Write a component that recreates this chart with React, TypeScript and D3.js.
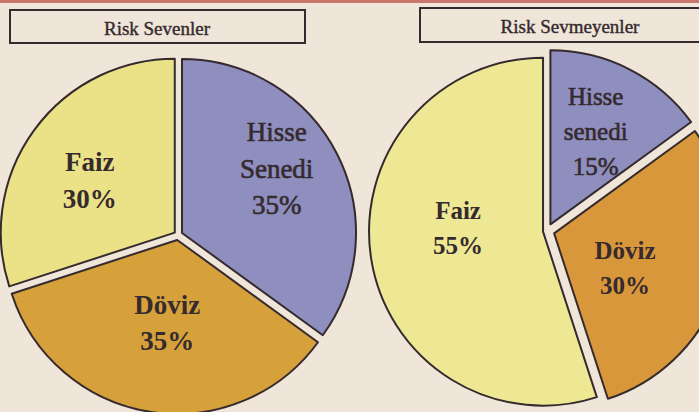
import React from "react";
import * as d3 from "d3";

const categories = ["Hisse Senedi", "Döviz", "Faiz"];
const riskSevenler = [35, 35, 30];
const riskSevmeyenler = [15, 30, 55];
const panelTitles = ["Risk Sevenler", "Risk Sevmeyenler"];
const labelsLeft = [["Hisse", "Senedi", "35%"], ["Döviz", "35%"], ["Faiz", "30%"]];
const labelsRight = [["Hisse", "senedi", "15%"], ["Döviz", "30%"], ["Faiz", "55%"]];

const W = 699;
const H = 412;
const BG = "#efe5d8";
const INK = "#352a2e";
const fillsLeft = ["#8e8ebf", "#d6a13a", "#ebe288"];
const fillsRight = ["#8e8ebf", "#d8973a", "#eee894"];

type PieCfg = {
  values: number[];
  labels: string[][];
  fills: string[];
  cx: number;
  cy: number;
  r: number;
  offsets: number[];
  labelR: number[];
  labelDA: number[];
  fontSize: number;
  lineH: number;
  weights: (string | number)[];
};

function Pie({ cfg }: { cfg: PieCfg }) {
  const pie = d3.pie<number>().sort(null).value((d) => d);
  const arcs = pie(cfg.values);
  const arc = d3.arc<d3.PieArcDatum<number>>().innerRadius(0).outerRadius(cfg.r);
  return (
    <g>
      {arcs.map((a, i) => {
        const mid = (a.startAngle + a.endAngle) / 2;
        const ox = Math.sin(mid) * cfg.offsets[i];
        const oy = -Math.cos(mid) * cfg.offsets[i];
        return (
          <path
            key={i}
            d={arc(a) || ""}
            transform={`translate(${cfg.cx + ox},${cfg.cy + oy})`}
            fill={cfg.fills[i]}
            stroke={INK}
            strokeWidth={2}
            strokeLinejoin="round"
          />
        );
      })}
      {arcs.map((a, i) => {
        const mid = (a.startAngle + a.endAngle) / 2 + (cfg.labelDA[i] * Math.PI) / 180;
        const lr = cfg.labelR[i];
        const x = cfg.cx + Math.sin(mid) * lr;
        const y = cfg.cy - Math.cos(mid) * lr;
        const lines = cfg.labels[i];
        const y0 = y - ((lines.length - 1) * cfg.lineH) / 2;
        const isNormal = cfg.weights[i] === "normal";
        return (
          <text
            key={"t" + i}
            x={x}
            textAnchor="middle"
            fontFamily="'Liberation Serif', 'Times New Roman', serif"
            fontSize={cfg.fontSize}
            fontWeight={cfg.weights[i]}
            fill={INK}
            stroke={isNormal ? INK : "none"}
            strokeWidth={isNormal ? 0.6 : 0}
          >
            {lines.map((ln, j) => (
              <tspan key={j} x={x} y={y0 + j * cfg.lineH + cfg.fontSize * 0.35}>
                {ln}
              </tspan>
            ))}
          </text>
        );
      })}
    </g>
  );
}

export default function App() {
  const left: PieCfg = {
    values: riskSevenler,
    labels: labelsLeft,
    fills: fillsLeft,
    cx: 178,
    cy: 235,
    r: 174,
    offsets: [4.5, 5, 4],
    labelR: [119, 88, 104],
    labelDA: [-7, -2, -4],
    fontSize: 27,
    lineH: 36.5,
    weights: ["normal", "bold", "bold"],
  };
  const right: PieCfg = {
    values: riskSevmeyenler,
    labels: labelsRight,
    fills: fillsRight,
    cx: 547,
    cy: 231,
    r: 174,
    offsets: [7.5, 7.5, 4],
    labelR: [111, 86, 89],
    labelDA: [-1, 7, 11],
    fontSize: 25,
    lineH: 35,
    weights: ["normal", "bold", "bold"],
  };
  return (
    <div style={{ position: "absolute", left: 0, top: 0 }}>
      <svg width={W} height={H} style={{ display: "block" }}>
        <rect x={0} y={0} width={W} height={H} fill={BG} />
        <rect x={0} y={0} width={W} height={3} fill="#c9776c" />
        <rect x={10} y={10} width={295} height={33} fill="none" stroke={INK} strokeWidth={2} />
        <rect x={420} y={8} width={280} height={34} fill="none" stroke={INK} strokeWidth={2} />
        <text x={157} y={35} textAnchor="middle" fontFamily="'Liberation Serif', serif" fontSize={19} fill={INK} stroke={INK} strokeWidth={0.4}>
          {panelTitles[0]}
        </text>
        <text x={570} y={33} textAnchor="middle" fontFamily="'Liberation Serif', serif" fontSize={19} fill={INK} stroke={INK} strokeWidth={0.4}>
          {panelTitles[1]}
        </text>
        <Pie cfg={left} />
        <Pie cfg={right} />
      </svg>
    </div>
  );
}
